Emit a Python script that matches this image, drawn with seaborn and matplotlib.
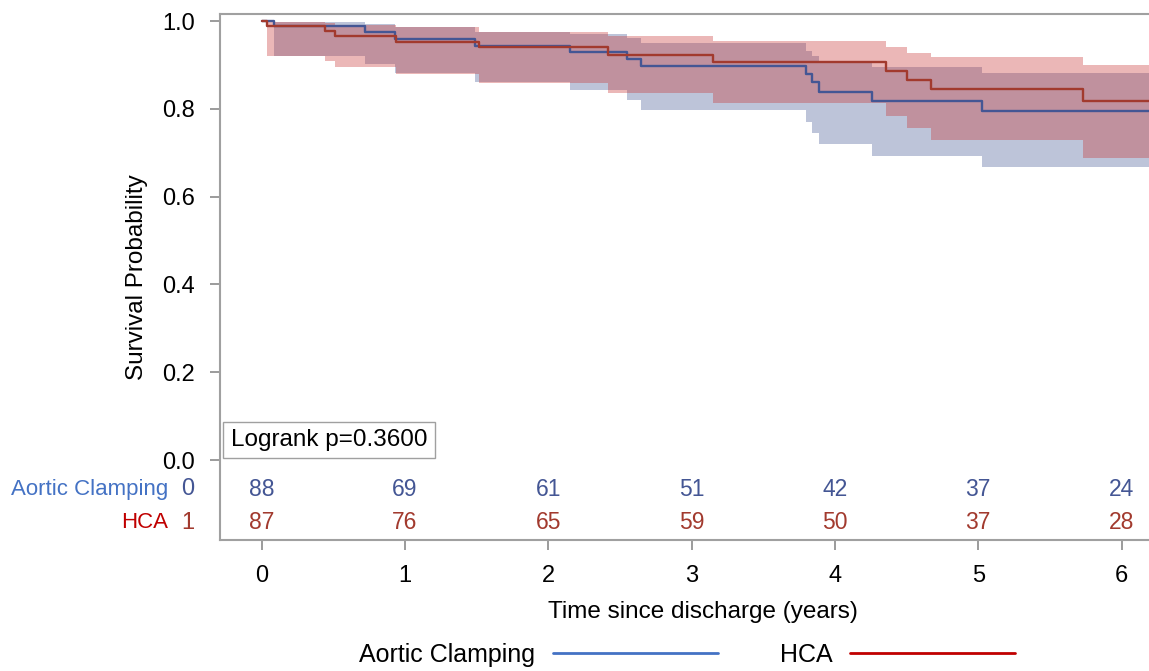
import numpy as np
import pandas as pd
import matplotlib
matplotlib.use("Agg")
import matplotlib.pyplot as plt
import seaborn as sns
from matplotlib.lines import Line2D

# Kaplan-Meier steps
ac_time = [0, 0.09, 0.72, 0.93, 1.49, 2.15, 2.55, 2.65, 3.80, 3.84, 3.89, 4.26, 5.03]
ac_surv = [1.0, 0.989, 0.974, 0.959, 0.944, 0.929, 0.913, 0.897, 0.879, 0.860, 0.839, 0.818, 0.795]
ac_lower = [1.0, 0.921, 0.903, 0.882, 0.862, 0.843, 0.819, 0.798, 0.769, 0.746, 0.720, 0.692, 0.667]
ac_upper = [1.0, 0.998, 0.993, 0.986, 0.975, 0.970, 0.961, 0.951, 0.932, 0.920, 0.910, 0.895, 0.882]

hca_time = [0, 0.04, 0.44, 0.51, 0.94, 1.52, 2.42, 3.15, 4.36, 4.50, 4.67, 5.73]
hca_surv = [1.0, 0.989, 0.977, 0.965, 0.952, 0.940, 0.923, 0.906, 0.886, 0.866, 0.845, 0.817]
hca_lower = [1.0, 0.921, 0.910, 0.895, 0.879, 0.859, 0.836, 0.813, 0.784, 0.756, 0.729, 0.688]
hca_upper = [1.0, 0.998, 0.995, 0.990, 0.986, 0.974, 0.965, 0.954, 0.940, 0.928, 0.918, 0.900]

t_end = 6.45

risk_times = [0, 1, 2, 3, 4, 5, 6]
ac_risk = [88, 69, 61, 51, 42, 37, 24]
hca_risk = [87, 76, 65, 59, 50, 37, 28]

groups = ["Aortic Clamping", "HCA"]
line_cols = {"Aortic Clamping": "#445694", "HCA": "#A23A2E"}
band_cols = {"Aortic Clamping": "#445694", "HCA": "#C83232"}
label_cols = {"Aortic Clamping": "#4472C4", "HCA": "#C00000"}


def km_frame(name, t, s, lo, hi):
    df = pd.DataFrame({"time": t + [t_end], "surv": s + [s[-1]],
                       "lower": lo + [lo[-1]], "upper": hi + [hi[-1]]})
    df["group"] = name
    return df


df = pd.concat([km_frame("Aortic Clamping", ac_time, ac_surv, ac_lower, ac_upper),
                km_frame("HCA", hca_time, hca_surv, hca_lower, hca_upper)],
               ignore_index=True)

sns.set_theme(style="ticks")
plt.rcParams['font.family'] = ['Liberation Sans', 'DejaVu Sans']
plt.rcParams.update({"text.color": "black", "axes.labelcolor": "black",
                     "xtick.color": "#8a8a8a", "ytick.color": "#8a8a8a",
                     "xtick.labelcolor": "black", "ytick.labelcolor": "black"})

fig = plt.figure(figsize=(11.49, 6.71), dpi=100)
ax = fig.add_axes([220 / 1149, 1 - 540 / 671, (1186 - 220) / 1149, (540 - 14) / 671])

for g in groups:
    sub = df[df["group"] == g]
    ax.fill_between(sub["time"], sub["lower"], sub["upper"], step="post",
                    color=band_cols[g], alpha=0.35, linewidth=0)
    sns.lineplot(data=sub, x="time", y="surv", ax=ax, color=line_cols[g],
                 drawstyle="steps-post", estimator=None, linewidth=1.7, legend=False)

ax.set_xlim(-0.29, 6.45)
ax.set_ylim(-0.182, 1.016)
ax.set_xticks(risk_times)
ax.set_yticks([0, 0.2, 0.4, 0.6, 0.8, 1.0])
ax.set_yticklabels(["0.0", "0.2", "0.4", "0.6", "0.8", "1.0"])
ax.tick_params(axis="both", labelsize=17, length=7, width=1.2)
ax.tick_params(axis="x", pad=11)
ax.tick_params(axis="y", pad=11)
for sp in ax.spines.values():
    sp.set_color("#a0a0a0")
    sp.set_linewidth(1.5)
ax.set_xlabel("Time since discharge (years)", fontsize=17.5, labelpad=10)
ax.set_ylabel("Survival Probability", fontsize=17.5, labelpad=10)

# number at risk rows inside the axes
for g, counts, yrow, code in [("Aortic Clamping", ac_risk, -0.066, "0"),
                              ("HCA", hca_risk, -0.143, "1")]:
    for t, n in zip(risk_times, counts):
        ax.text(t, yrow, str(n), ha="center", va="center", fontsize=16.5, color=line_cols[g])
    ax.text(-0.517, yrow, code, ha="center", va="center", fontsize=17, color=line_cols[g])
    ax.text(-0.65, yrow, g, ha="right", va="center", fontsize=16, color=label_cols[g])

ax.text(-0.215, 0.046, "Logrank p=0.3600", ha="left", va="center", fontsize=17.5,
        bbox=dict(boxstyle="square,pad=0.3", fc="white", ec="#a0a0a0", lw=1))

handles = [Line2D([0], [0], color=label_cols[g], lw=2) for g in groups]
fig.legend(handles, groups, loc="center", bbox_to_anchor=(0.598, 0.024), ncol=2,
           frameon=False, markerfirst=False, handlelength=6.6, handletextpad=0.7,
           columnspacing=2.5, fontsize=18)

fig.savefig("out.png", dpi=100)
